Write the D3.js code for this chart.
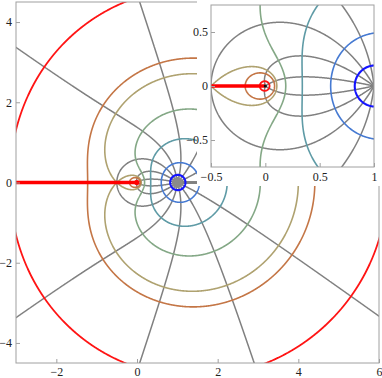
<!DOCTYPE html>
<meta charset="utf-8">
<style>
body { margin: 0; background: #fff; }
svg { display: block; }
</style>
<svg width="382" height="378"></svg>
<script src="https://d3js.org/d3.v7.min.js"></script>
<script>

// f(z) = (z - 1) / z^(1/3), saddle point at z = -1/2
// modulus levels as fractions of |f(-1/2)|
var modLevels = [0.1, 0.25, 0.5, 0.75, 1, 1.1, 1.5],
    modColors = ["#1414ff", "#467ad2", "#5f9ba6", "#84a886", "#afa270", "#c47646", "#ff1414"],
    modWidths = [2.1, 1.6, 1.6, 1.6, 1.6, 1.6, 1.8];

// phase levels, in steps of 2pi/15
var phaseSteps = [-7, -6, -5, -4, -3, -2, -1, 0, 1, 2, 3, 4, 5, 6, 7];

var mainX = [-3, 6], mainY = [-4.5, 4.5],
    mainXTicks = [-2, 0, 2, 4, 6], mainYTicks = [-4, -2, 0, 2, 4];

var insetX = [-0.5, 1], insetY = [-0.75, 0.75],
    insetXTicks = [-0.5, 0, 0.5, 1], insetYTicks = [-0.5, 0, 0.5];

var saddle = 1.5 / Math.cbrt(0.5),
    phaseStep = 2 * Math.PI / 15;

var svg = d3.select("svg"),
    defs = svg.append("defs");

function logMod(x, y) {
  var v = 0.5 * Math.log((x - 1) * (x - 1) + y * y) - Math.log(x * x + y * y) / 6;
  return Math.max(-30, Math.min(30, v));
}

// phase of f, continuous on the upper half plane and a thin strip below it
function phaseUp(x, y) {
  var a = Math.atan2(y, x - 1);
  if (a < 0) a += 2 * Math.PI;
  var b = Math.atan2(y, x);
  if (b < -Math.PI / 2) b += 2 * Math.PI;
  return a - b / 3;
}

function grid(x, y, px0, px1, py0, py1, s, fn) {
  var nx = Math.ceil((px1 - px0) / s),
      ny = Math.ceil((py1 - py0) / s),
      v = new Array(nx * ny);
  for (var j = 0; j < ny; j++) {
    var yy = y.invert(py0 + (j + 0.5) * s);
    for (var i = 0; i < nx; i++) {
      v[j * nx + i] = fn(x.invert(px0 + (i + 0.5) * s), yy);
    }
  }
  return {
    nx: nx, ny: ny, values: v,
    path: d3.geoPath(d3.geoIdentity().scale(s).translate([px0, py0]))
  };
}

function clipRect(id, x0, y0, x1, y1) {
  defs.append("clipPath").attr("id", id)
    .append("rect").attr("x", x0).attr("y", y0).attr("width", x1 - x0).attr("height", y1 - y0);
  return "url(#" + id + ")";
}

function panel(id, box, xd, yd, s) {
  var x = d3.scaleLinear().domain(xd).range([box[0], box[2]]),
      y = d3.scaleLinear().domain(yd).range([box[3], box[1]]),
      y0 = y(0), m = 3;

  var g = svg.append("g");
  var all = g.append("g").attr("clip-path", clipRect(id + "-all", box[0], box[1], box[2], box[3]));

  // phase lines, upper and lower half computed apart
  var levels = phaseSteps.map(function(k) { return k * phaseStep; });
  var halves = [
    { clip: clipRect(id + "-up", box[0], box[1] - m, box[2], y0),
      gr: grid(x, y, box[0] - m, box[2] + m, box[1] - m, y0 + m, s, phaseUp) },
    { clip: clipRect(id + "-dn", box[0], y0, box[2], box[3] + m),
      gr: grid(x, y, box[0] - m, box[2] + m, y0 - m, box[3] + m, s,
               function(a, b) { return -phaseUp(a, -b); }) }
  ];
  halves.forEach(function(h) {
    var cs = d3.contours().size([h.gr.nx, h.gr.ny]).thresholds(levels)(h.gr.values);
    all.append("g").attr("clip-path", h.clip)
      .selectAll("path").data(cs).join("path")
        .attr("d", h.gr.path)
        .attr("fill", "none")
        .attr("stroke", "#808080")
        .attr("stroke-width", 1.5)
        .attr("stroke-linejoin", "round");
  });
  // phase 0 along the real axis beyond z = 1
  all.append("line")
    .attr("x1", x(1)).attr("x2", x(xd[1]) + m)
    .attr("y1", y0).attr("y2", y0)
    .attr("stroke", "#808080").attr("stroke-width", 1.5);

  // modulus lines
  var mg = grid(x, y, box[0] - m, box[2] + m, box[1] - m, box[3] + m, s, logMod);
  var mth = modLevels.map(function(l) { return Math.log(l * saddle); });
  var mc = d3.contours().size([mg.nx, mg.ny]).thresholds(mth)(mg.values);
  all.append("g").selectAll("path").data(mc).join("path")
    .attr("d", mg.path)
    .attr("fill", "none")
    .attr("stroke", function(d, i) { return modColors[i]; })
    .attr("stroke-width", function(d, i) { return modWidths[i]; })
    .attr("stroke-linejoin", "round");

  // branch cut
  all.append("line")
    .attr("x1", x(xd[0]) - m).attr("x2", x(0))
    .attr("y1", y0).attr("y2", y0)
    .attr("stroke", "#ff0000").attr("stroke-width", 3.3);

  return { g: g, all: all, x: x, y: y, box: box };
}

function axes(p, xt, yt, padX, padY) {
  var fmt = d3.format("");
  var ax = p.g.append("g")
    .attr("transform", "translate(0," + p.box[3] + ")")
    .call(d3.axisBottom(p.x).tickValues(xt).tickSize(-4).tickPadding(padX).tickFormat(fmt));
  var ay = p.g.append("g")
    .attr("transform", "translate(" + p.box[0] + ",0)")
    .call(d3.axisLeft(p.y).tickValues(yt).tickSize(-4).tickPadding(padY).tickFormat(fmt));
  [ax, ay].forEach(function(a) {
    a.select(".domain").remove();
    a.attr("font-family", "'Liberation Serif', 'DejaVu Serif', serif").attr("font-size", 12);
    a.selectAll("line").attr("stroke", "#a0a0a0");
    a.selectAll("text").attr("fill", "#222");
  });
}

function frame(p) {
  p.g.append("rect")
    .attr("x", p.box[0]).attr("y", p.box[1])
    .attr("width", p.box[2] - p.box[0]).attr("height", p.box[3] - p.box[1])
    .attr("fill", "none").attr("stroke", "#a0a0a0").attr("stroke-width", 1);
}

// main plot
var main = panel("main", [16, 2, 379, 363], mainX, mainY, 0.5);
main.all.append("circle")
  .attr("cx", main.x(1)).attr("cy", main.y(0)).attr("r", 5.5)
  .attr("fill", "#8a8a8a");
main.all.append("circle")
  .attr("cx", main.x(0)).attr("cy", main.y(0)).attr("r", 2.2)
  .attr("fill", "#ff0000");
axes(main, mainXTicks, mainYTicks, 4, 4);

// inset
svg.append("rect")
  .attr("x", 197).attr("y", 0).attr("width", 185).attr("height", 186)
  .attr("fill", "#fff");
var inset = panel("inset", [211, 5, 374, 167], insetX, insetY, 0.5);
inset.all.append("circle")
  .attr("cx", inset.x(0)).attr("cy", inset.y(0)).attr("r", 1.6)
  .attr("fill", "#111");
axes(inset, insetXTicks, insetYTicks, 5, 3);
frame(inset);

frame(main);

</script>
